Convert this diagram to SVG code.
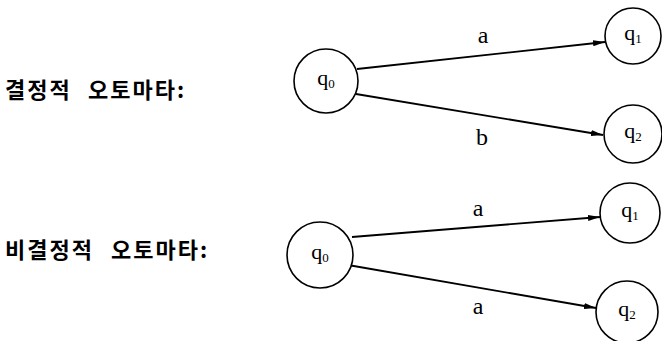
<svg xmlns="http://www.w3.org/2000/svg" width="662" height="341" viewBox="0 0 662 341">
  <style>
    .state { fill: #fff; stroke: #000; stroke-width: 1.6; }
    .edge { fill: none; stroke: #000; stroke-width: 1.8; marker-end: url(#arrow); }
    .sym { font-family: "Liberation Serif", "DejaVu Serif", serif; font-size: 22px; fill: #000; text-anchor: middle; }
    .lbl { font-family: "Liberation Serif", "DejaVu Serif", serif; font-size: 24px; fill: #000; text-anchor: middle; }
    .sub { font-size: 13px; }
    .title { font-family: "Noto Sans CJK KR", "Noto Sans", sans-serif; font-size: 22px; fill: #000; font-weight: bold; letter-spacing: 2px; }
  </style>
  <defs>
    <marker id="arrow" viewBox="0 0 12 6" refX="12" refY="3" markerWidth="12" markerHeight="6" markerUnits="userSpaceOnUse" orient="auto">
      <path d="M0,0 L12,3 L0,6 z" fill="#000"/>
    </marker>
  </defs>

  <!-- section titles -->
  <text class="title" y="98"><tspan x="5">결정적</tspan><tspan x="88">오토마타:</tspan></text>
  <text class="title" y="258"><tspan x="5">비결정적</tspan><tspan x="111">오토마타:</tspan></text>

  <!-- connectors -->
  <g id="edges">
    <line class="edge" x1="357" y1="69" x2="605" y2="42"/>
    <line class="edge" x1="356" y1="94" x2="603" y2="135"/>
    <line class="edge" x1="352" y1="237" x2="600" y2="217"/>
    <line class="edge" x1="348" y1="265" x2="596" y2="308"/>
    <text class="lbl" x="483" y="43">a</text>
    <text class="lbl" x="482" y="145">b</text>
    <text class="lbl" x="478" y="216">a</text>
    <text class="lbl" x="478" y="314">a</text>
  </g>

  <!-- deterministic automaton -->
  <g id="d-q0">
    <circle class="state" cx="326" cy="81" r="32"/>
    <text class="sym" x="326" y="85">q<tspan class="sub" dy="3">0</tspan></text>
  </g>
  <g id="d-q1">
    <circle class="state" cx="633" cy="36" r="28"/>
    <text class="sym" x="633" y="40">q<tspan class="sub" dy="3">1</tspan></text>
  </g>
  <g id="d-q2">
    <circle class="state" cx="633" cy="134" r="29"/>
    <text class="sym" x="633" y="138">q<tspan class="sub" dy="3">2</tspan></text>
  </g>

  <!-- nondeterministic automaton -->
  <g id="n-q0">
    <circle class="state" cx="320" cy="255" r="33"/>
    <text class="sym" x="320" y="259">q<tspan class="sub" dy="3">0</tspan></text>
  </g>
  <g id="n-q1">
    <circle class="state" cx="630" cy="213" r="30"/>
    <text class="sym" x="630" y="217">q<tspan class="sub" dy="3">1</tspan></text>
  </g>
  <g id="n-q2">
    <circle class="state" cx="627" cy="312" r="31"/>
    <text class="sym" x="627" y="316">q<tspan class="sub" dy="3">2</tspan></text>
  </g>
</svg>
